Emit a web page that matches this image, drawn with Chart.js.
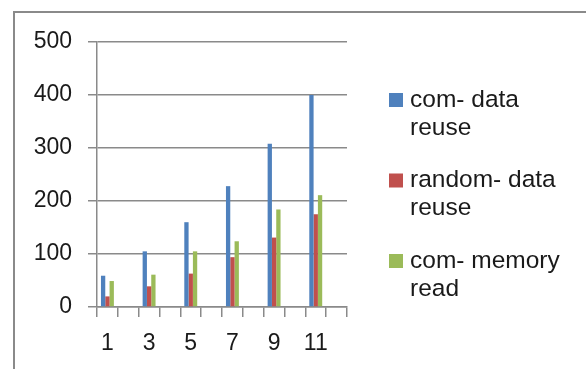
<!DOCTYPE html>
<html>
<head>
<meta charset="utf-8">
<script src="https://cdn.jsdelivr.net/npm/chart.js@4/dist/chart.umd.min.js"></script>
<style>
  html, body { margin: 0; padding: 0; background: #fff; }
  body { width: 586px; height: 369px; position: relative; overflow: hidden; }
  #frame { position: absolute; left: 13px; top: 11px; width: 700px; height: 500px;
           border: 2px solid #8a8a8a; box-sizing: border-box; }
  #wrap { position: absolute; left: 0; top: 0; width: 586px; height: 369px; }
</style>
</head>
<body>
<div id="frame"></div>
<div id="wrap"><canvas id="c" width="586" height="369"></canvas></div>
<script>
// Category slots 1..12; values are measured at the odd slots only
const categories = ['1','2','3','4','5','6','7','8','9','10','11','12'];
const comDataReuse    = [59, null, 105, null, 160, null, 228, null, 308, null, 400, null];
const randomDataReuse = [20, null,  39, null,  63, null,  94, null, 131, null, 175, null];
const comMemoryRead   = [49, null,  61, null, 105, null, 124, null, 184, null, 211, null];
const seriesNames = ['com- data reuse', 'random- data reuse', 'com- memory read'];
const legendLines = [['com- data', 'reuse'], ['random- data', 'reuse'], ['com- memory', 'read']];
const yTicks = [0, 100, 200, 300, 400, 500];

const colors = ['#4F81BD', '#C0504D', '#9BBB59'];
const FONT = '"Liberation Sans", Arial, sans-serif';

// Legend at the right: square swatch plus two-line label per series
const sideLegend = {
  id: 'sideLegend',
  afterDraw(chart) {
    const ctx = chart.ctx;
    ctx.save();
    ctx.font = '24.5px ' + FONT;
    ctx.textBaseline = 'middle';
    ctx.textAlign = 'left';
    chart.data.datasets.forEach((ds, i) => {
      const y0 = 100 + i * 80.5;
      ctx.fillStyle = ds.backgroundColor;
      ctx.fillRect(389, y0 - 7, 14, 14);
      ctx.fillStyle = '#1a1a1a';
      legendLines[i].forEach((line, j) => ctx.fillText(line, 410, y0 + j * 28));
    });
    ctx.restore();
  }
};

new Chart(document.getElementById('c'), {
  type: 'bar',
  data: {
    labels: categories,
    datasets: [
      { label: seriesNames[0], data: comDataReuse,    backgroundColor: colors[0] },
      { label: seriesNames[1], data: randomDataReuse, backgroundColor: colors[1] },
      { label: seriesNames[2], data: comMemoryRead,   backgroundColor: colors[2] }
    ]
  },
  options: {
    responsive: false,
    animation: false,
    devicePixelRatio: 1,
    layout: { padding: { left: 0, top: 42, right: 239, bottom: 0 } },
    datasets: { bar: { categoryPercentage: 0.62, barPercentage: 1.0 } },
    plugins: { legend: { display: false }, tooltip: { enabled: false } },
    scales: {
      x: {
        offset: true,
        grid: { offset: true, drawOnChartArea: false, drawTicks: true, tickLength: 10, color: '#8a8a8a', lineWidth: 1.5 },
        border: { color: '#8a8a8a', width: 1.5 },
        ticks: {
          autoSkip: false, maxRotation: 0, padding: 13,
          color: '#1a1a1a', font: { family: FONT, size: 23 },
          callback: (v, i) => (i % 2 === 0 ? categories[i] : '')
        },
        afterFit: s => { s.height = 62; }
      },
      y: {
        min: 0, max: 500,
        afterBuildTicks: s => { s.ticks = yTicks.map(v => ({ value: v })); },
        grid: { color: '#8a8a8a', lineWidth: 1.5, tickLength: 9 },
        border: { color: '#8a8a8a', width: 1.5 },
        ticks: { padding: 16, color: '#1a1a1a', font: { family: FONT, size: 23 } },
        afterFit: s => { s.width = 97; }
      }
    }
  },
  plugins: [sideLegend]
});
</script>
</body>
</html>
